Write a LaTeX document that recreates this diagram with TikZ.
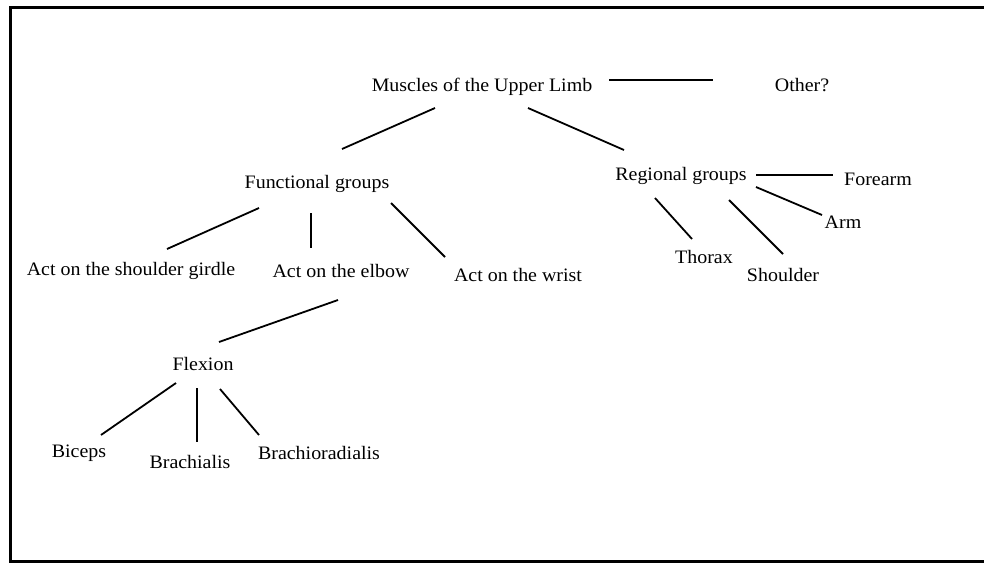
\documentclass[tikz,border=0pt]{standalone}
\usepackage{fontspec}
\setmainfont[FakeStretch=1.05]{Liberation Serif}
\usetikzlibrary{calc}

\tikzset{
  lbl/.style={anchor=base, inner sep=0pt, font=\fontsize{19}{21}\selectfont},
  link/.style={line width=1.8pt, line cap=butt},
  frame/.style={line width=3pt}
}

\begin{document}
\begin{tikzpicture}[x=1pt, y=-1pt]
  \useasboundingbox (0,0) rectangle (984,563);
  \fill[white] (0,0) rectangle (984,563);
  \begin{scope}
    \clip (0,0) rectangle (984,563);
    \draw[frame] (1000,7) -- (10,7) -- (10,561) -- (1000,561);
  \end{scope}

  % labels
  \node[lbl] (muscles)  at (482,91)  {Muscles of the Upper Limb};
  \node[lbl] (other)    at (802,91)  {Other?};
  \node[lbl] (func)     at (317,188) {Functional groups};
  \node[lbl] (reg)      at (681,180) {Regional groups};
  \node[lbl] (forearm)  at (878,185) {Forearm};
  \node[lbl] (arm)      at (843,228) {Arm};
  \node[lbl] (thorax)   at (704,263) {Thorax};
  \node[lbl] (shoulder) at (783,281) {Shoulder};
  \node[lbl] (girdle)   at (131,275) {Act on the shoulder girdle};
  \node[lbl] (elbow)    at (341,277) {Act on the elbow};
  \node[lbl] (wrist)    at (518,281) {Act on the wrist};
  \node[lbl] (flex)     at (203,370) {Flexion};
  \node[lbl] (biceps)   at (79,457)  {Biceps};
  \node[lbl] (brach)    at (190,468) {Brachialis};
  \node[lbl] (brrad)    at (319,459) {Brachioradialis};

  % connectors
  \draw[link] ($(muscles.base)+(127,-11)$) -- ($(other.base)+(-89,-11)$);
  \draw[link] ($(muscles.base)+(-47,17)$) -- ($(func.base)+(25,-39)$);
  \draw[link] ($(muscles.base)+(46,17)$)  -- ($(reg.base)+(-57,-30)$);

  \draw[link] ($(reg.base)+(75,-5)$)  -- ($(forearm.base)+(-45,-10)$);
  \draw[link] ($(reg.base)+(75,7)$)   -- ($(arm.base)+(-21,-13)$);
  \draw[link] ($(reg.base)+(-26,18)$) -- ($(thorax.base)+(-12,-24)$);
  \draw[link] ($(reg.base)+(48,20)$)  -- ($(shoulder.base)+(0,-27)$);

  \draw[link] ($(func.base)+(-58,20)$) -- ($(girdle.base)+(36,-26)$);
  \draw[link] ($(func.base)+(-6,25)$)  -- ($(elbow.base)+(-30,-29)$);
  \draw[link] ($(func.base)+(74,15)$)  -- ($(wrist.base)+(-73,-24)$);

  \draw[link] ($(elbow.base)+(-3,23)$) -- ($(flex.base)+(16,-28)$);

  \draw[link] ($(flex.base)+(-27,13)$) -- ($(biceps.base)+(22,-22)$);
  \draw[link] ($(flex.base)+(-6,18)$)  -- ($(brach.base)+(7,-26)$);
  \draw[link] ($(flex.base)+(17,19)$)  -- ($(brrad.base)+(-60,-24)$);
\end{tikzpicture}
\end{document}
